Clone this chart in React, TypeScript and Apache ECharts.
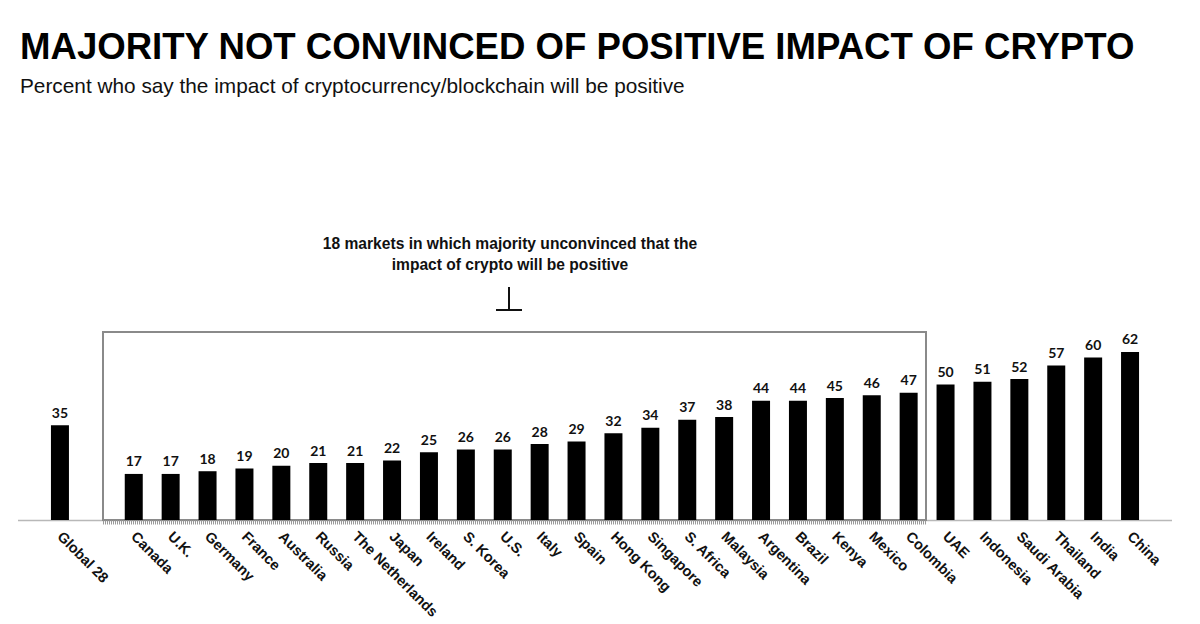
import React, { useEffect, useRef } from "react";
import * as echarts from "echarts";

const categories = [
  "Global 28", "", "Canada", "U.K.", "Germany", "France", "Australia", "Russia",
  "The Netherlands", "Japan", "Ireland", "S. Korea", "U.S.", "Italy", "Spain",
  "Hong Kong", "Singapore", "S. Africa", "Malaysia", "Argentina", "Brazil",
  "Kenya", "Mexico", "Colombia", "UAE", "Indonesia", "Saudi Arabia", "Thailand",
  "India", "China",
];
const values: (number | string)[] = [
  35, "-", 17, 17, 18, 19, 20, 21, 21, 22, 25, 26, 26, 28, 29, 32, 34, 37, 38,
  44, 44, 45, 46, 47, 50, 51, 52, 57, 60, 62,
];
const titleText = "MAJORITY NOT CONVINCED OF POSITIVE IMPACT OF CRYPTO";
const subtitleText = "Percent who say the impact of cryptocurrency/blockchain will be positive";
const noteLines = [
  "18 markets in which majority unconvinced that the",
  "impact of crypto will be positive",
];

export default function App() {
  const ref = useRef<HTMLDivElement>(null);
  useEffect(() => {
    if (!ref.current) return;
    const chart = echarts.init(ref.current, null, { renderer: "svg" });
    chart.setOption({
      animation: false,
      backgroundColor: "#ffffff",
      grid: {
        left: 33.5,
        width: 1107,
        top: 241,
        height: 271,
        containLabel: false,
        outerBoundsMode: "none",
      },
      title: [
        {
          text: titleText,
          left: 7,
          top: 15,
          padding: 5,
          textStyle: {
            fontFamily: "Liberation Sans, Arial, sans-serif",
            fontWeight: "bold",
            fontSize: 36.6,
            color: "#000",
          },
        },
        {
          text: subtitleText,
          left: 7,
          top: 62,
          padding: 5,
          textStyle: {
            fontFamily: "Liberation Sans, Arial, sans-serif",
            fontWeight: "normal",
            fontSize: 20.8,
            color: "#111",
          },
        },
      ],
      xAxis: {
        type: "category",
        data: categories,
        axisLine: { show: false },
        axisTick: { show: false },
        axisLabel: {
          rotate: -45,
          interval: 0,
          margin: 14,
          fontFamily: "Liberation Sans, Arial, sans-serif",
          fontWeight: "bold",
          fontSize: 14.5,
          color: "#111",
        },
      },
      yAxis: {
        type: "value",
        min: 0,
        max: 100,
        show: false,
        splitLine: { show: false },
      },
      series: [
        {
          type: "bar",
          data: values,
          barWidth: 18,
          itemStyle: { color: "#000" },
          label: {
            show: true,
            position: "top",
            distance: 6,
            fontFamily: "Lato, Open Sans, sans-serif",
            fontWeight: "bold",
            fontSize: 14,
            color: "#111",
          },
          z: 3,
        },
      ],
      graphic: [
        {
          type: "line",
          shape: { x1: 10, y1: 512.5, x2: 1164, y2: 512.5 },
          style: { stroke: "#b8b8b8", lineWidth: 1.5 },
          z: 1,
        },
        {
          type: "rect",
          shape: { x: 95, y: 324, width: 823, height: 188 },
          style: { fill: "none", stroke: "#8a8a8a", lineWidth: 2 },
          z: 2,
        },
        {
          type: "line",
          shape: { x1: 95, y1: 514.5, x2: 918, y2: 514.5 },
          style: { stroke: "#9a9a9a", lineWidth: 4, lineDash: [1, 1] },
          z: 2,
        },
        {
          type: "text",
          x: 502,
          y: 225,
          style: {
            text: noteLines.join("\n"),
            fontFamily: "Liberation Sans, Arial, sans-serif",
            fontWeight: "bold",
            fontSize: 15.6,
            lineHeight: 21,
            fill: "#111",
            align: "center",
            verticalAlign: "top",
          },
        },
        {
          type: "line",
          shape: { x1: 501, y1: 279, x2: 501, y2: 302 },
          style: { stroke: "#111", lineWidth: 2 },
        },
        {
          type: "line",
          shape: { x1: 488, y1: 302, x2: 514, y2: 302 },
          style: { stroke: "#111", lineWidth: 2 },
        },
      ],
    });
    return () => chart.dispose();
  }, []);
  return <div ref={ref} style={{ width: 1184, height: 616 }} />;
}
